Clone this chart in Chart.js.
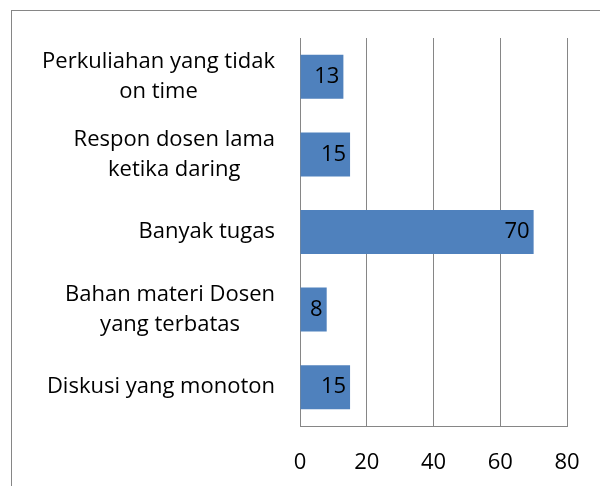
<!DOCTYPE html>
<html>
<head>
<meta charset="utf-8">
<script src="https://cdn.jsdelivr.net/npm/chart.js@4"></script>
<style>
  html, body { margin: 0; padding: 0; background: #fff; }
  #wrap { width: 600px; height: 486px; }
</style>
</head>
<body>
<div id="wrap"><canvas id="barChart" width="600" height="486"></canvas></div>
<script>
// data
var categories = [
    ['Perkuliahan yang tidak', 'on time'],
    ['Respon dosen lama', 'ketika daring'],
    ['Banyak tugas'],
    ['Bahan materi Dosen', 'yang terbatas'],
    ['Diskusi yang monoton']
];
var values = [13, 15, 70, 8, 15];
var xTicks = [0, 20, 40, 60, 80];

var FONT = "'Open Sans', 'Noto Sans', sans-serif";
var FONT_SIZE = 22;
var LINE_GRAY = '#868686';

// frame around the whole chart (clipped by the window on right/bottom)
var framePlugin = {
    id: 'frame',
    beforeDraw: function(chart) {
        var ctx = chart.ctx;
        ctx.save();
        ctx.strokeStyle = LINE_GRAY;
        ctx.lineWidth = 1;
        ctx.strokeRect(11.5, 10.5, 800, 800);
        ctx.restore();
    }
};

// category labels: lines centred on each other, block right aligned to the axis
var catLabelPlugin = {
    id: 'catLabels',
    afterDraw: function(chart) {
        var ctx = chart.ctx;
        var yScale = chart.scales.y;
        var right = chart.chartArea.left - 25;
        var lineH = 30;
        ctx.save();
        ctx.font = FONT_SIZE + 'px ' + FONT;
        ctx.fillStyle = '#000';
        ctx.textAlign = 'center';
        ctx.textBaseline = 'middle';
        categories.forEach(function(lines, i) {
            var y = yScale.getPixelForTick(i);
            var maxW = 0;
            lines.forEach(function(l) { maxW = Math.max(maxW, ctx.measureText(l).width); });
            var cx = right - maxW / 2;
            var y0 = y - (lines.length - 1) * lineH / 2;
            lines.forEach(function(l, k) {
                ctx.fillText(l, cx, y0 + k * lineH);
            });
        });
        ctx.restore();
    }
};

// value labels inside the end of each bar
var valueLabelPlugin = {
    id: 'valueLabels',
    afterDatasetsDraw: function(chart) {
        var ctx = chart.ctx;
        var meta = chart.getDatasetMeta(0);
        ctx.save();
        ctx.font = FONT_SIZE + 'px ' + FONT;
        ctx.fillStyle = '#000';
        ctx.textAlign = 'right';
        ctx.textBaseline = 'middle';
        meta.data.forEach(function(bar, i) {
            ctx.fillText(String(values[i]), bar.x - 4, bar.y);
        });
        ctx.restore();
    }
};

var canvas = document.getElementById('barChart');
var chartInstance = new Chart(canvas, {
    type: 'bar',
    data: {
        labels: categories,
        datasets: [{
            data: values,
            backgroundColor: '#4F81BD',
            borderWidth: 0,
            categoryPercentage: 1.0,
            barPercentage: 0.567
        }]
    },
    options: {
        indexAxis: 'y',
        responsive: false,
        animation: false,
        layout: { padding: { top: 38, right: 33, bottom: 0, left: 0 } },
        plugins: {
            legend: { display: false },
            tooltip: { enabled: false },
            title: { display: false }
        },
        scales: {
            x: {
                min: 0,
                max: 80,
                afterBuildTicks: function(scale) {
                    scale.ticks = xTicks.map(function(v) { return { value: v }; });
                },
                afterFit: function(scale) {
                    scale.height = 60;
                    scale.paddingLeft = 0;
                    scale.paddingRight = 0;
                },
                grid: { color: LINE_GRAY, drawTicks: false },
                border: { color: LINE_GRAY },
                ticks: {
                    color: '#000',
                    padding: 24,
                    maxRotation: 0,
                    font: { family: FONT, size: FONT_SIZE }
                }
            },
            y: {
                grid: { display: false },
                border: { display: true, color: LINE_GRAY },
                ticks: { display: false },
                afterFit: function(scale) { scale.width = 300; }
            }
        }
    },
    plugins: [framePlugin, catLabelPlugin, valueLabelPlugin]
});
</script>
</body>
</html>
